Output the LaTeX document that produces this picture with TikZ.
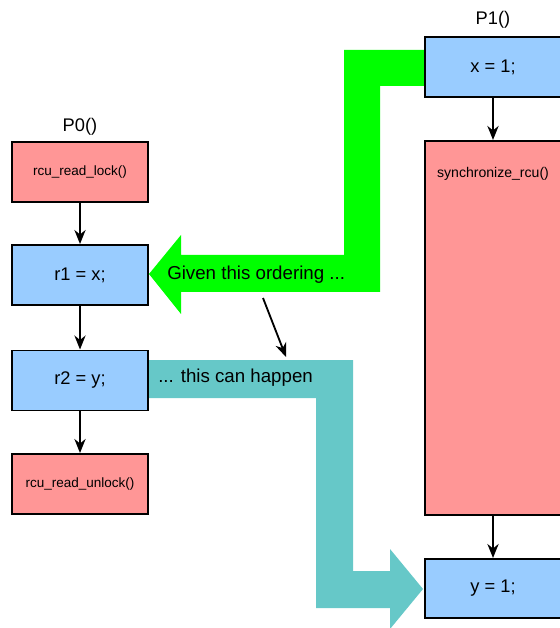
\documentclass[tikz,border=0pt]{standalone}
\usepackage{fontspec}
\setmainfont{Liberation Sans}
\usetikzlibrary{arrows.meta}

\definecolor{lockred}{RGB}{255,150,150}
\definecolor{accblue}{RGB}{153,204,255}
\definecolor{ordgreen}{RGB}{0,255,0}
\definecolor{happteal}{RGB}{102,200,200}

\begin{document}
\begin{tikzpicture}[x=0.025cm,y=-0.025cm,line join=miter,
  box/.style={draw,line width=1.4pt,minimum width=3.4cm,minimum height=1.5cm,inner sep=0pt},
  lockbox/.style={box,fill=lockred,font=\fontsize{9.6}{11}\selectfont},
  accbox/.style={box,fill=accblue,font=\fontsize{13}{15}\selectfont},
  fname/.style={font=\fontsize{13}{15}\selectfont},
  bigtxt/.style={font=\fontsize{13.3}{15}\selectfont,anchor=west,inner sep=0pt},
  flow/.style={-{Stealth[length=10pt,width=8pt]},line width=1.3pt}]

\useasboundingbox (0,0) rectangle (559,628);

% big green arrow (the ordering)
\fill[ordgreen] (424,50) -- (344,50) -- (344,255) -- (181,255) -- (181,235)
  -- (149,274) -- (181,314) -- (181,292) -- (380,292) -- (380,86) -- (424,86) -- cycle;

% big teal arrow (the outcome)
\fill[happteal] (149,360) -- (353,360) -- (353,571) -- (390,571) -- (390,549)
  -- (423,589) -- (390,629) -- (390,608) -- (316,608) -- (316,398) -- (149,398) -- cycle;

% P0 side
\node[fname] (p0) at (80,127) {P0()};
\node[lockbox] (rl) at (80,172) {rcu\_read\_lock()};
\node[accbox] (r1) at (80,275) {r1 = x;};
\node[accbox] (r2) at (80,380.5) {r2 = y;};
\node[lockbox] (ru) at (80,484) {rcu\_read\_unlock()};

% P1 side
\node[fname] (p1) at (493,20) {P1()};
\node[accbox] (x1) at (493,67) {x = 1;};
\node[lockbox,minimum height=9.35cm,
  label={[font=\fontsize{10}{12}\selectfont,anchor=north,yshift=-0.55cm]north:synchronize\_rcu()}]
  (sync) at (493,328) {};
\node[accbox,minimum height=1.475cm] (y1) at (493,588.5) {y = 1;};

% program order
\draw[flow] (rl) -- (r1);
\draw[flow] (r1) -- (r2);
\draw[flow] (r2) -- (ru);
\draw[flow] (x1) -- (sync);
\draw[flow] (sync) -- (y1);

% captions
\node[bigtxt] (given) at (167,275) {Given this ordering ...};
\node[bigtxt] (happen) at (158,378) {... this can happen};

\coordinate (h0) at (263,298);
\coordinate (h1) at (286,357);
\draw[flow] (h0) -- (h1);

\end{tikzpicture}
\end{document}
